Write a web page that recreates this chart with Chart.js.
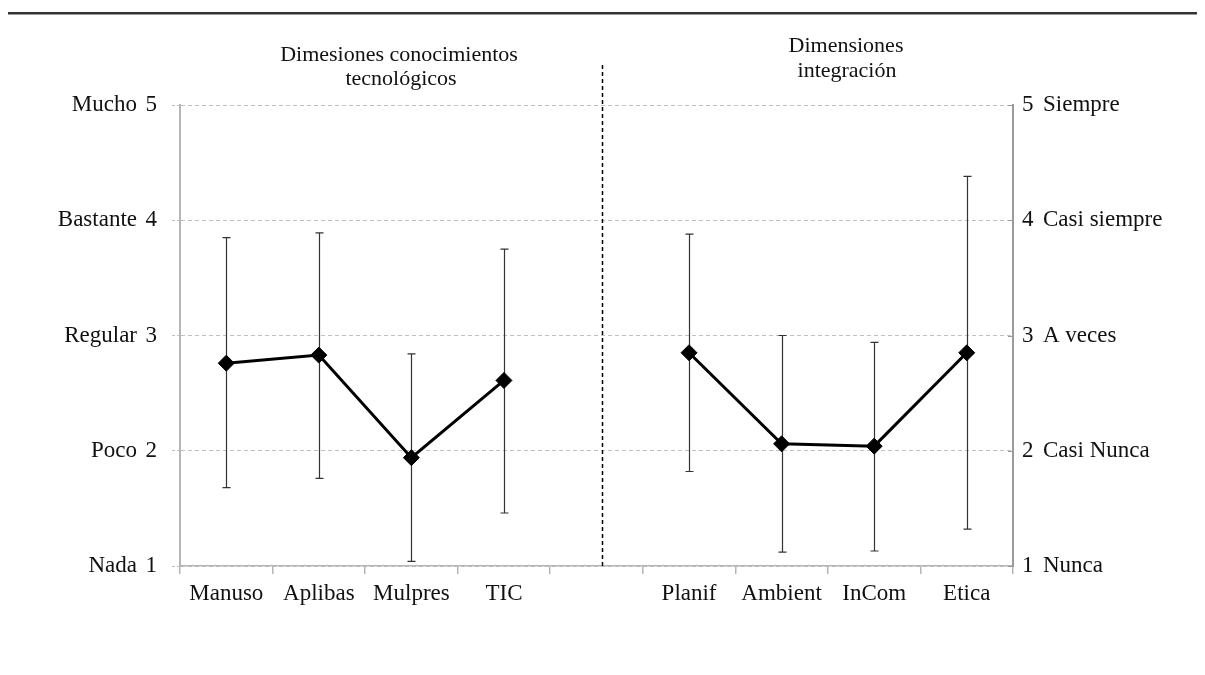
<!DOCTYPE html>
<html>
<head>
<meta charset="utf-8">
<script src="https://cdn.jsdelivr.net/npm/chart.js@4/dist/chart.umd.min.js"></script>
<style>
  html, body { margin: 0; padding: 0; background: #fff; }
  #wrap { position: relative; width: 1205px; height: 675px; }
</style>
</head>
<body>
<div id="wrap"><canvas id="c" width="1205" height="675"></canvas></div>
<script>
// Categories (an empty slot separates the two groups of dimensions)
const categories = ['Manuso', 'Aplibas', 'Mulpres', 'TIC', '', 'Planif', 'Ambient', 'InCom', 'Etica'];
// Mean scores
const means = [2.76, 2.83, 1.94, 2.61, null, 2.85, 2.06, 2.04, 2.85];
// Error bar ends
const upper = [3.85, 3.89, 2.84, 3.75, null, 3.88, 3.00, 2.94, 4.38];
const lower = [1.68, 1.76, 1.04, 1.46, null, 1.82, 1.12, 1.13, 1.32];
// Scale values and their verbal anchors
const scaleValues = [1, 2, 3, 4, 5];
const leftAnchors = ['Nada', 'Poco', 'Regular', 'Bastante', 'Mucho'];
const rightAnchors = ['Nunca', 'Casi Nunca', 'A veces', 'Casi siempre', 'Siempre'];
// Group headings
const leftHeading = ['Dimesiones conocimientos', 'tecnológicos'];
const rightHeading = ['Dimensiones', 'integración'];

const FONT = '"Liberation Serif", "Times New Roman", serif';
const TEXT = '#111';

const decorations = {
  id: 'decorations',
  beforeDraw(chart) {
    const ctx = chart.ctx;
    ctx.save();
    ctx.fillStyle = '#fff';
    ctx.fillRect(0, 0, chart.width, chart.height);
    // rule across the top
    ctx.fillStyle = '#333';
    ctx.fillRect(8, 12, chart.width - 16, 2);
    ctx.fillStyle = '#9a9a9a';
    ctx.fillRect(8, 14, chart.width - 16, 1);
    ctx.restore();
  },
  beforeDatasetsDraw(chart) {
    const ctx = chart.ctx;
    const x = chart.scales.x, y = chart.scales.y;
    ctx.save();
    // error bars
    ctx.strokeStyle = '#333';
    ctx.lineWidth = 1.2;
    for (let i = 0; i < categories.length; i++) {
      if (upper[i] == null) continue;
      const px = Math.round(x.getPixelForValue(i)) + 0.5;
      const yt = y.getPixelForValue(upper[i]);
      const yb = y.getPixelForValue(lower[i]);
      ctx.beginPath();
      ctx.moveTo(px, yt); ctx.lineTo(px, yb);
      ctx.moveTo(px - 4, yt); ctx.lineTo(px + 4, yt);
      ctx.moveTo(px - 4, yb); ctx.lineTo(px + 4, yb);
      ctx.stroke();
    }
    ctx.restore();
  },
  afterDraw(chart) {
    const ctx = chart.ctx;
    const x = chart.scales.x, y = chart.scales.y;
    const area = chart.chartArea;
    ctx.save();
    // dashed separator between the two groups
    const sx = Math.round(x.getPixelForValue(4)) + 5.5;
    ctx.strokeStyle = '#000';
    ctx.lineWidth = 1.5;
    ctx.setLineDash([4, 3]);
    ctx.beginPath();
    ctx.moveTo(sx, 65);
    ctx.lineTo(sx, area.bottom);
    ctx.stroke();
    ctx.setLineDash([]);

    // small inward ticks on the right scale
    ctx.strokeStyle = '#9a9a9a';
    ctx.lineWidth = 1;
    scaleValues.forEach(v => {
      const py = Math.round(y.getPixelForValue(v)) + 0.5;
      ctx.beginPath();
      ctx.moveTo(area.right - 5, py);
      ctx.lineTo(area.right, py);
      ctx.stroke();
    });

    // verbal anchors of the scale
    ctx.fillStyle = TEXT;
    ctx.font = '23px ' + FONT;
    ctx.textBaseline = 'middle';
    scaleValues.forEach((v, i) => {
      const py = y.getPixelForValue(v);
      ctx.textAlign = 'right';
      ctx.fillText(leftAnchors[i], area.left - 43, py);
      ctx.textAlign = 'left';
      ctx.fillText(rightAnchors[i], area.right + 30, py);
    });

    // group headings
    ctx.font = '22px ' + FONT;
    ctx.textAlign = 'center';
    ctx.textBaseline = 'alphabetic';
    ctx.fillText(leftHeading[0], 399, 61);
    ctx.fillText(leftHeading[1], 401, 85);
    ctx.fillText(rightHeading[0], 846, 52);
    ctx.fillText(rightHeading[1], 847, 77);
    ctx.restore();
  }
};

new Chart(document.getElementById('c'), {
  type: 'line',
  data: {
    labels: categories,
    datasets: [{
      data: means,
      borderColor: '#000',
      borderWidth: 3,
      pointStyle: 'rectRot',
      pointRadius: 8,
      pointBackgroundColor: '#000',
      pointBorderColor: '#000',
      pointBorderWidth: 1,
      spanGaps: false,
      tension: 0
    }, {
      // right-hand scale companion (no marks)
      data: [],
      yAxisID: 'y2'
    }]
  },
  options: {
    responsive: false,
    animation: false,
    layout: { padding: { top: 105, left: 0, right: 0, bottom: 0 } },
    plugins: { legend: { display: false }, tooltip: { enabled: false }, title: { display: false } },
    scales: {
      x: {
        offset: true,
        grid: { offset: true, drawOnChartArea: false, color: '#b5b5b5', tickLength: 8, lineWidth: 1.5 },
        border: { color: '#b5b5b5', width: 1.5 },
        ticks: { color: TEXT, font: { family: FONT, size: 23 }, padding: 6, maxRotation: 0, autoSkip: false },
        afterFit(s) { s.height = 109; }
      },
      y: {
        position: 'left',
        min: 1, max: 5,
        ticks: { stepSize: 1, color: TEXT, font: { family: FONT, size: 23 }, padding: 15 },
        grid: { color: '#c0c0c0', lineWidth: 1, tickLength: 8, tickBorderDash: [3, 2] },
        border: { color: '#b5b5b5', width: 2, dash: [4, 3] },
        afterFit(s) { s.width = 180; }
      },
      y2: {
        position: 'right',
        min: 1, max: 5,
        ticks: { stepSize: 1, color: TEXT, font: { family: FONT, size: 23 }, padding: 9 },
        grid: { drawOnChartArea: false, drawTicks: false },
        border: { color: '#9a9a9a', width: 2 },
        afterFit(s) { s.width = 192; }
      }
    }
  },
  plugins: [decorations]
});
</script>
</body>
</html>
